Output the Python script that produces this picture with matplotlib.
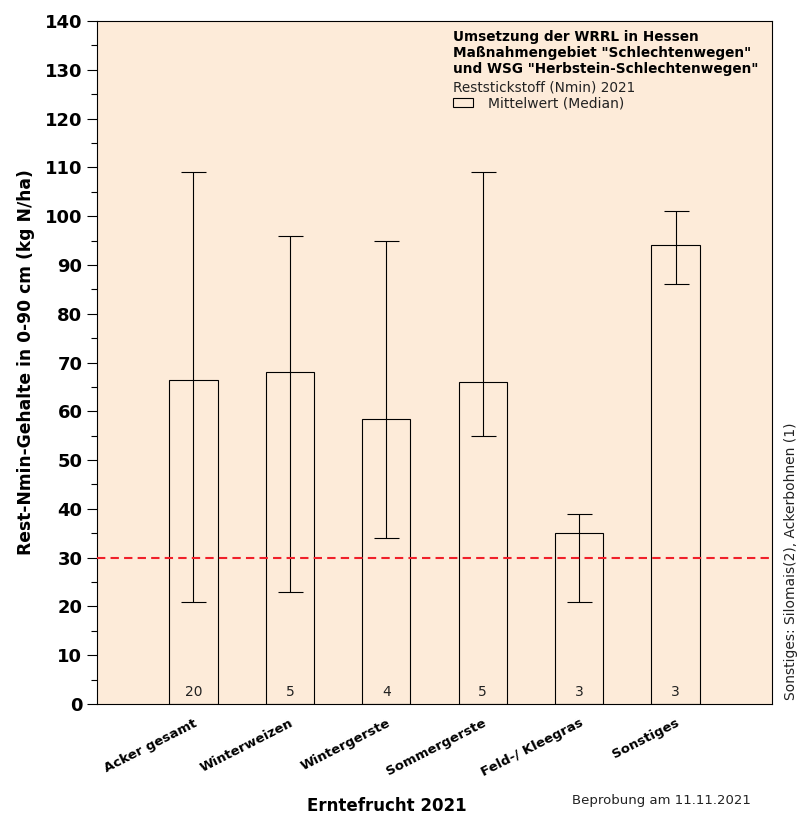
import matplotlib.pyplot as plt
from matplotlib.patches import Rectangle
import numpy as np

plt.rcParams['font.family'] = ['DejaVu Sans']

# --- data ---
crops = ['Acker gesamt', 'Winterweizen', 'Wintergerste', 'Sommergerste',
         'Feld-/ Kleegras', 'Sonstiges']
medians = [66.5, 68, 58.5, 66, 35, 94]
lows = [21, 23, 34, 55, 21, 86]
highs = [109, 96, 95, 109, 39, 101]
counts = [20, 5, 4, 5, 3, 3]
threshold = 30

x = np.arange(len(crops))
med = np.array(medians)
yerr = [med - np.array(lows), np.array(highs) - med]

fig = plt.figure(figsize=(8.06, 8.15), dpi=100)
ax = fig.add_axes([0.1203, 0.1362, 0.8375, 0.838])
ax.set_facecolor('#fdebd9')

ax.bar(x, med, width=0.5, facecolor='none', edgecolor='black', linewidth=0.8, zorder=3)
ax.errorbar(x, med, yerr=yerr, fmt='none', ecolor='black', elinewidth=0.8,
            capsize=9, capthick=0.8, zorder=4)
ax.axhline(threshold, color='#f0202a', linestyle=(0, (4, 2.5)), linewidth=1.5, zorder=5)

# sample counts inside the bars
for xi, n in zip(x, counts):
    ax.text(xi, 1.0, str(n), ha='center', va='bottom', fontsize=10, color='#222222')

ax.set_xlim(-1, 6)
ax.set_ylim(0, 140)
ax.set_yticks(np.arange(0, 141, 10))
ax.set_yticks(np.arange(5, 140, 10), minor=True)
ax.tick_params(axis='y', which='major', length=7.5, width=0.8, labelsize=13, pad=3)
ax.tick_params(axis='y', which='minor', length=4, width=0.8)
for lab in ax.get_yticklabels():
    lab.set_fontweight('bold')

ax.set_xticks(x)
ax.set_xticklabels(crops, rotation=27, ha='right', rotation_mode='anchor',
                   fontsize=9.5, fontweight='bold')
ax.tick_params(axis='x', length=0, pad=9)

ax.set_ylabel('Rest-Nmin-Gehalte in 0-90 cm (kg N/ha)', fontsize=12.3, fontweight='bold',
              va='center')
ax.yaxis.set_label_coords(-0.105, 0.5)

fig.text(0.480, 0.005, 'Erntefrucht 2021', ha='center', va='baseline',
         fontsize=12, fontweight='bold')
fig.text(0.7097, 0.0135, 'Beprobung am 11.11.2021', ha='left', va='baseline',
         fontsize=9.5, color='#222222')
fig.text(0.981, 0.141, 'Sonstiges: Silomais(2), Ackerbohnen (1)', rotation=90,
         ha='center', va='bottom', fontsize=10, color='#222222')

for s in ax.spines.values():
    s.set_linewidth(0.8)

# info box, top right
title_lines = ['Umsetzung der WRRL in Hessen', 'Maßnahmengebiet "Schlechtenwegen"',
               'und WSG "Herbstein-Schlechtenwegen"']
for line, yy in zip(title_lines, [0.9707, 0.9473, 0.9239]):
    ax.text(0.527, yy, line, transform=ax.transAxes, ha='left', va='baseline',
            fontsize=9.8, fontweight='bold')
ax.text(0.527, 0.8975, 'Reststickstoff (Nmin) 2021', transform=ax.transAxes,
        ha='left', va='baseline', fontsize=9.8, color='#222222')
ax.add_patch(Rectangle((0.5274, 0.8741), 0.0296, 0.0125, transform=ax.transAxes,
                       facecolor='none', edgecolor='black', linewidth=0.8))
ax.text(0.579, 0.8741, 'Mittelwert (Median)', transform=ax.transAxes,
        ha='left', va='baseline', fontsize=10, color='#222222')

fig.savefig('out.png', dpi=100)
